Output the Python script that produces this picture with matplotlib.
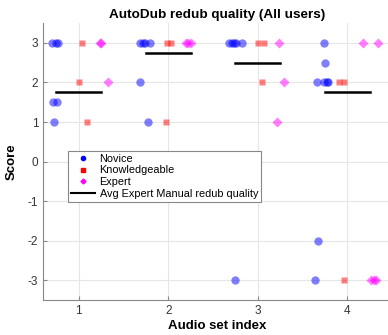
import matplotlib
matplotlib.use('Agg')
import matplotlib.pyplot as plt

plt.rcParams['font.family'] = ['Liberation Sans', 'DejaVu Sans']
plt.rcParams['axes.unicode_minus'] = False

# scores per user group (x = audio set index with jitter, y = score)
novice_x = [0.70, 0.75, 0.77, 0.71, 0.76, 0.72,
            1.68, 1.72, 1.74, 1.80, 1.68, 1.77,
            2.68, 2.71, 2.74, 2.76, 2.82, 2.75,
            3.74, 3.75, 3.66, 3.74, 3.77, 3.79, 3.67, 3.64]
novice_y = [3, 3, 3, 1.5, 1.5, 1,
            3, 3, 3, 3, 2, 1,
            3, 3, 3, 3, 3, -3,
            3, 2.5, 2, 2, 2, 2, -2, -3]

knowl_x = [1.04, 1.00, 1.09, 1.99, 2.03, 1.98, 3.00, 3.07, 3.05, 3.91, 3.97, 3.97]
knowl_y = [3, 2, 1, 3, 3, 1, 3, 3, 2, 2, 2, -3]

expert_x = [1.24, 1.25, 1.33, 2.20, 2.22, 2.25, 3.24, 3.29, 3.22, 4.18, 4.35, 4.27, 4.30, 4.32]
expert_y = [3, 3, 2, 3, 3, 3, 3, 2, 1, 3, 3, -3, -3, -3]

# average expert manual redub quality per audio set
sets = [1, 2, 3, 4]
avg_manual = [1.75, 2.75, 2.5, 1.75]

fig = plt.figure(figsize=(3.88, 3.35), dpi=100)
# axes run slightly past the right edge of the picture, as in the original
ax = fig.add_axes([0.111, 0.104, 0.899, 0.827])

ax.plot(novice_x, novice_y, 'o', color='#0000ff', alpha=0.5, ms=6, mec='none')
ax.plot(knowl_x, knowl_y, 's', color='#ff0000', alpha=0.5, ms=5, mec='none')
ax.plot(expert_x, expert_y, 'D', color='#ff00ff', alpha=0.5, ms=5, mec='none')
for i, s in enumerate(sets):
    ax.plot([s - 0.25, s + 0.25], [avg_manual[i], avg_manual[i]], color='black', lw=1.8)

# legend with small opaque markers
h1, = ax.plot([], [], 'o', color='#0000ff', ms=3)
h2, = ax.plot([], [], 's', color='#ff0000', ms=3)
h3, = ax.plot([], [], 'D', color='#ff00ff', ms=2.5)
h4, = ax.plot([], [], '-', color='black', lw=1.5)
leg = ax.legend([h1, h2, h3, h4],
                ['Novice', 'Knowledgeable', 'Expert', 'Avg Expert Manual redub quality'],
                loc='upper left', bbox_to_anchor=(0.072, 0.54), fontsize=7.8,
                frameon=True, fancybox=False, framealpha=1, edgecolor='#888888',
                handlelength=2.2, handletextpad=0.4, borderpad=0.3, labelspacing=0.15,
                borderaxespad=0)
leg.get_frame().set_linewidth(0.8)

ax.set_xlim(0.6, 4.5)
ax.set_ylim(-3.5, 3.5)
ax.set_xticks(sets)
ax.set_yticks([-3, -2, -1, 0, 1, 2, 3])
ax.grid(True, color='#e6e6e6', lw=0.8)
ax.set_axisbelow(True)
for side in ['top', 'right']:
    ax.spines[side].set_visible(False)
for side in ['left', 'bottom']:
    ax.spines[side].set_color('#888888')
    ax.spines[side].set_linewidth(0.8)
ax.tick_params(direction='in', length=3, color='#888888', labelsize=8.5, labelcolor='#333333')

ax.set_xlabel('Audio set index', fontsize=9.5, fontweight='bold', labelpad=2)
ax.set_ylabel('Score', fontsize=9.5, fontweight='bold', labelpad=7)
ax.set_title('AutoDub redub quality (All users)', fontsize=9.7, fontweight='bold', pad=4)

fig.savefig('out.png', dpi=100)
